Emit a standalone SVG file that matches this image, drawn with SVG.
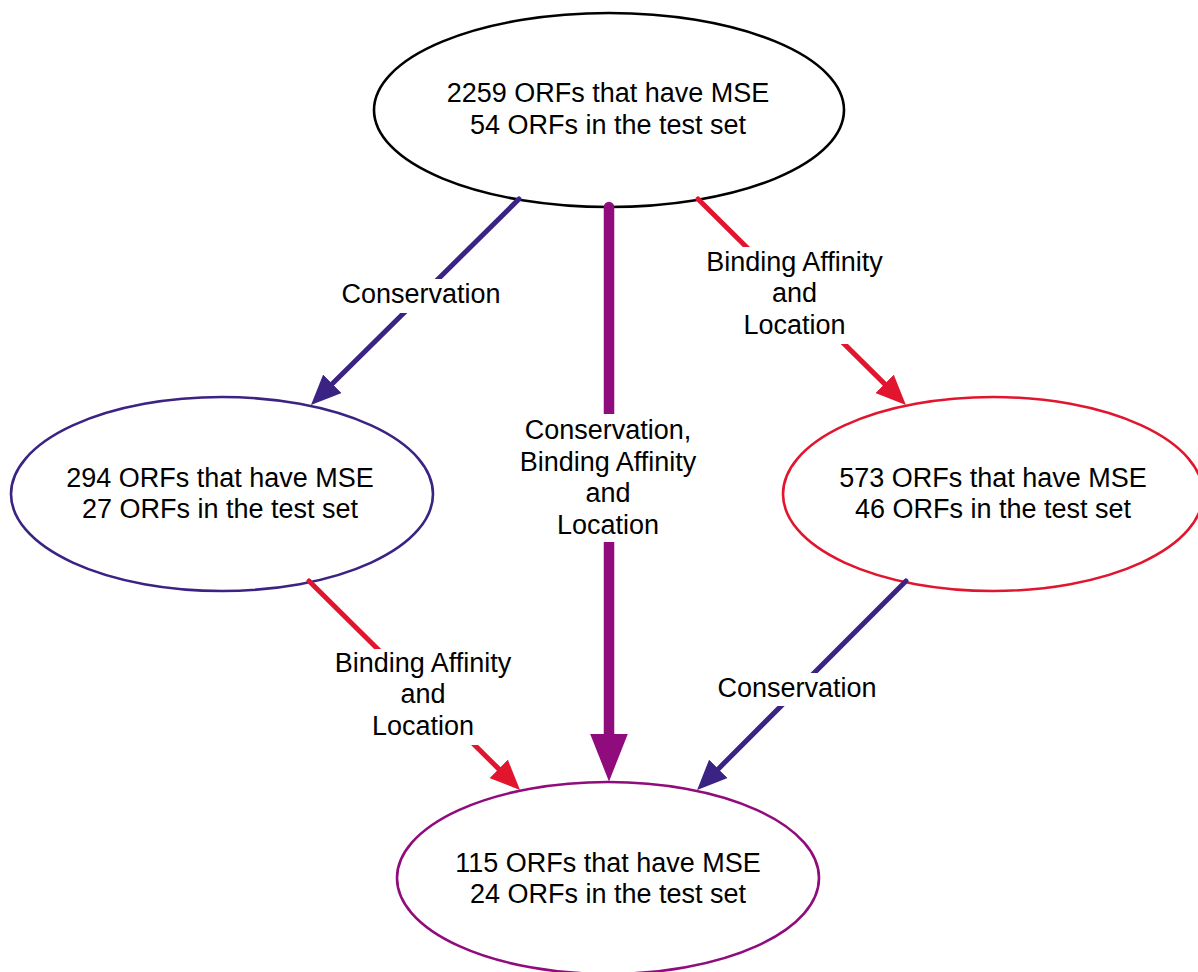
<svg xmlns="http://www.w3.org/2000/svg" width="1198" height="972" viewBox="0 0 1198 972">
  <style>
    .node { fill: #ffffff; stroke-width: 2.6; }
    .txt { font-family: "Liberation Sans", Arial, Helvetica, sans-serif; font-size: 27px; fill: #000000; text-anchor: middle; }
    .edge { fill: none; stroke-linecap: round; }
    .thin { stroke-width: 5; }
    .thick { stroke-width: 10.5; }
    .indigo { stroke: #3b2383; }
    .red { stroke: #e1162e; }
    .purple { stroke: #900b7b; }
    .lblbg { fill: #ffffff; stroke: none; }
  </style>
  <defs>
    <marker id="ah-indigo" markerUnits="userSpaceOnUse" viewBox="0 0 30 26" markerWidth="30" markerHeight="26" refX="0" refY="13" orient="auto">
      <path d="M0,0 L30,13 L0,26 Z" fill="#3b2383"/>
    </marker>
    <marker id="ah-red" markerUnits="userSpaceOnUse" viewBox="0 0 30 26" markerWidth="30" markerHeight="26" refX="0" refY="13" orient="auto">
      <path d="M0,0 L30,13 L0,26 Z" fill="#e1162e"/>
    </marker>
    <marker id="ah-purple" markerUnits="userSpaceOnUse" viewBox="0 0 48 38" markerWidth="48" markerHeight="38" refX="0" refY="19" orient="auto">
      <path d="M0,0 L48,19 L0,38 Z" fill="#900b7b"/>
    </marker>
  </defs>

  <g id="node-all">
    <ellipse class="node" cx="609" cy="110" rx="235" ry="97" stroke="#000000"/>
    <text class="txt" x="608" y="102">2259 ORFs that have MSE</text>
    <text class="txt" x="608" y="134">54 ORFs in the test set</text>
  </g>
  <g id="node-conservation">
    <ellipse class="node" cx="222" cy="494" rx="211" ry="97" stroke="#3b2383"/>
    <text class="txt" x="220" y="487">294 ORFs that have MSE</text>
    <text class="txt" x="220" y="518">27 ORFs in the test set</text>
  </g>
  <g id="node-binding">
    <ellipse class="node" cx="993" cy="494" rx="210" ry="97" stroke="#e1162e"/>
    <text class="txt" x="993" y="487">573 ORFs that have MSE</text>
    <text class="txt" x="993" y="518">46 ORFs in the test set</text>
  </g>
  <g id="node-both">
    <ellipse class="node" cx="608" cy="878" rx="211" ry="96" stroke="#900b7b"/>
    <text class="txt" x="608" y="872">115 ORFs that have MSE</text>
    <text class="txt" x="608" y="903">24 ORFs in the test set</text>
  </g>

  <g id="connectors">
    <line class="edge thin indigo" x1="519" y1="199" x2="332.3" y2="383.8" marker-end="url(#ah-indigo)"/>
    <line class="edge thick purple" x1="609" y1="207" x2="609" y2="733.5" marker-end="url(#ah-purple)"/>
    <line class="edge thin red" x1="698" y1="199" x2="884.6" y2="383.9" marker-end="url(#ah-red)"/>
    <line class="edge thin red" x1="309" y1="581" x2="498.7" y2="768.9" marker-end="url(#ah-red)"/>
    <line class="edge thin indigo" x1="906" y1="581" x2="718.3" y2="768.9" marker-end="url(#ah-indigo)"/>

    <g id="label-top-left">
      <rect class="lblbg" x="339" y="279" width="164" height="34"/>
      <text class="txt" x="421" y="303">Conservation</text>
    </g>
    <g id="label-center">
      <rect class="lblbg" x="515" y="414" width="188" height="128"/>
      <text class="txt" x="608" y="439">Conservation,</text>
      <text class="txt" x="608" y="471">Binding Affinity</text>
      <text class="txt" x="608" y="502">and</text>
      <text class="txt" x="608" y="534">Location</text>
    </g>
    <g id="label-top-right">
      <rect class="lblbg" x="704" y="247" width="182" height="97"/>
      <text class="txt" x="794.5" y="271">Binding Affinity</text>
      <text class="txt" x="794.5" y="302">and</text>
      <text class="txt" x="794.5" y="334">Location</text>
    </g>
    <g id="label-bottom-left">
      <rect class="lblbg" x="333" y="649" width="181" height="96"/>
      <text class="txt" x="423" y="672">Binding Affinity</text>
      <text class="txt" x="423" y="703">and</text>
      <text class="txt" x="423" y="735">Location</text>
    </g>
    <g id="label-bottom-right">
      <rect class="lblbg" x="716" y="673" width="163" height="33"/>
      <text class="txt" x="797" y="697">Conservation</text>
    </g>
  </g>
</svg>
